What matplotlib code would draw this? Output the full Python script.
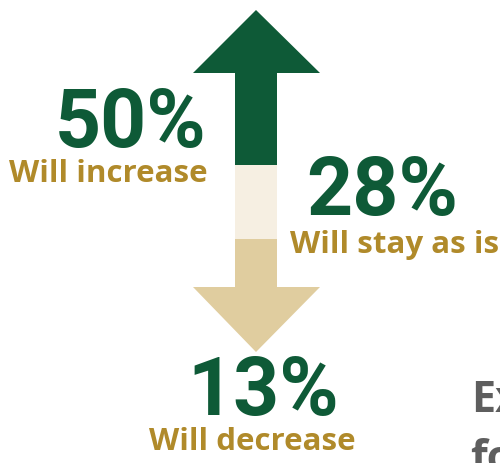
import matplotlib
matplotlib.use("Agg")
import matplotlib.pyplot as plt
from matplotlib.patches import Polygon

# Survey outcome shares and their captions
shares = [50, 28, 13]
captions = ["Will increase", "Will stay as is", "Will decrease"]
side_title = ["Ex", "fo"]

GREEN = "#0E5A37"
CREAM = "#F6EFE2"
TAN = "#E0CD9F"
GOLD = "#B08A2A"
GREY = "#5E5E5E"

W, H = 500, 463
fig = plt.figure(figsize=(W / 100, H / 100), dpi=100)
ax = fig.add_axes([0, 0, 1, 1])
ax.set_xlim(0, W)
ax.set_ylim(H, 0)
ax.axis("off")

# double-headed arrow: shaft split into three bands
cx = 256
shaft_l, shaft_r = 235, 277
head_l, head_r = 193, 320
up_tip, up_base = 10, 73
green_end, cream_end = 165, 239
down_base, down_tip = 287, 352

ax.add_patch(Polygon([(cx, up_tip), (head_r, up_base), (shaft_r, up_base),
                      (shaft_r, green_end), (shaft_l, green_end),
                      (shaft_l, up_base), (head_l, up_base)],
                     closed=True, facecolor=GREEN, edgecolor="none"))
ax.add_patch(Polygon([(shaft_l, green_end), (shaft_r, green_end),
                      (shaft_r, cream_end), (shaft_l, cream_end)],
                     closed=True, facecolor=CREAM, edgecolor="none"))
ax.add_patch(Polygon([(shaft_l, cream_end), (shaft_r, cream_end),
                      (shaft_r, down_base), (head_r, down_base),
                      (cx, down_tip), (head_l, down_base),
                      (shaft_l, down_base)],
                     closed=True, facecolor=TAN, edgecolor="none"))

num_font = dict(family="Roboto", weight="bold", color=GREEN, fontsize=58)
cap_font = dict(family="Open Sans", weight="bold", color=GOLD, fontsize=22.5)

# (center x, number baseline, caption center x, caption baseline)
spots = [(130.5, 147, 108.5, 182),
         (382, 215, 394.5, 253),
         (263.5, 415, 252.5, 450)]

for val, cap, (nx, ny, lx, ly) in zip(shares, captions, spots):
    ax.text(nx, ny, f"{val}%", ha="center", va="baseline", **num_font)
    ax.text(lx, ly, cap, ha="center", va="baseline", **cap_font)

ax.text(471, 412, side_title[0], ha="left", va="baseline",
        family="Open Sans", weight="bold", color=GREY, fontsize=31)
ax.text(470, 471, side_title[1], ha="left", va="baseline",
        family="Open Sans", weight="bold", color=GREY, fontsize=31, clip_on=False)

fig.savefig("out.png", dpi=100)
